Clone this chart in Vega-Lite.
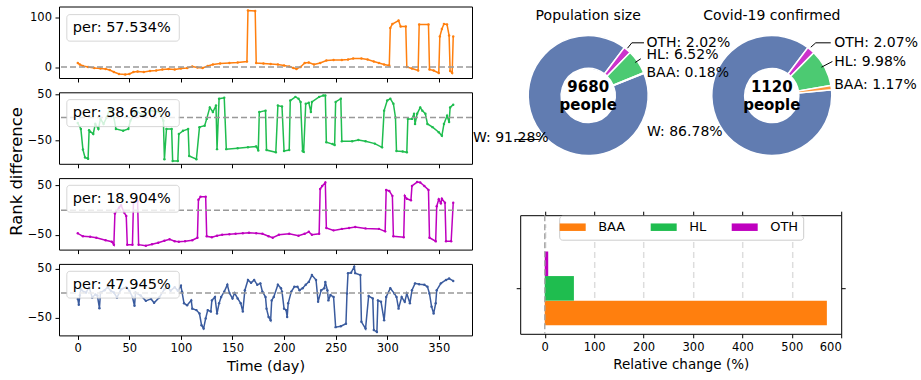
{
"$schema": "https://vega.github.io/schema/vega-lite/v6.json",
"padding": {"left": 7, "top": 5.5, "right": 0, "bottom": 0},
"autosize": {"type": "pad"},
"spacing": -1.8,
"resolve": {"scale": {"color": "independent"}},
"config": {
  "font": "DejaVu Sans",
  "view": {"stroke": "#000", "strokeWidth": 1},
  "axis": {"domain": false, "grid": false, "tickColor": "#000", "tickSize": 4, "tickWidth": 1, "labelFontSize": 11.5, "labelColor": "#000", "labelPadding": 3.5, "titleFontSize": 14.5, "titleFontWeight": "normal", "titleColor": "#000", "titlePadding": 5, "labelFont": "DejaVu Sans", "titleFont": "DejaVu Sans"},
  "text": {"font": "DejaVu Sans", "color": "#000"},
  "legend": {"labelFont": "DejaVu Sans"}
},
"datasets": {
"p1": [{"t":0,"v":8},{"t":2,"v":5},{"t":5,"v":2},{"t":10,"v":0},{"t":16,"v":-2},{"t":22,"v":-3},{"t":27,"v":-4},{"t":31,"v":-6},{"t":35,"v":-10},{"t":40,"v":-14},{"t":46,"v":-15},{"t":50,"v":-14},{"t":54,"v":-10},{"t":58,"v":-9},{"t":64,"v":-10},{"t":70,"v":-8},{"t":76,"v":-7},{"t":82,"v":-5},{"t":88,"v":-4},{"t":94,"v":-5},{"t":100,"v":-3},{"t":106,"v":-2},{"t":111,"v":1},{"t":116,"v":-1},{"t":121,"v":-2},{"t":126,"v":2},{"t":131,"v":5},{"t":138,"v":7},{"t":147,"v":8},{"t":155,"v":9},{"t":164,"v":11},{"t":165,"v":113},{"t":172,"v":112},{"t":173,"v":8},{"t":180,"v":7},{"t":187,"v":6},{"t":194,"v":5},{"t":200,"v":3},{"t":205,"v":1},{"t":209,"v":-2},{"t":212,"v":-4},{"t":216,"v":0},{"t":220,"v":8},{"t":224,"v":9},{"t":229,"v":5},{"t":235,"v":8},{"t":241,"v":13},{"t":248,"v":14},{"t":256,"v":14},{"t":262,"v":15},{"t":267,"v":17},{"t":275,"v":17},{"t":281,"v":15},{"t":287,"v":11},{"t":292,"v":8},{"t":297,"v":5},{"t":302,"v":3},{"t":303,"v":78},{"t":305,"v":86},{"t":311,"v":93},{"t":313,"v":81},{"t":318,"v":81},{"t":319,"v":0},{"t":324,"v":-3},{"t":330,"v":-7},{"t":331,"v":85},{"t":340,"v":85},{"t":341,"v":-5},{"t":345,"v":-7},{"t":350,"v":-12},{"t":351,"v":61},{"t":353,"v":76},{"t":355,"v":86},{"t":358,"v":85},{"t":360,"v":63},{"t":361,"v":-8},{"t":363,"v":-12},{"t":364,"v":61}],
"p2": [{"t":0,"v":-12},{"t":3,"v":-25},{"t":5,"v":-70},{"t":7,"v":-87},{"t":10,"v":-90},{"t":11,"v":-28},{"t":15,"v":-36},{"t":17,"v":-14},{"t":20,"v":-25},{"t":22,"v":-3},{"t":25,"v":-14},{"t":28,"v":0},{"t":31,"v":19},{"t":34,"v":12},{"t":37,"v":-25},{"t":44,"v":-29},{"t":49,"v":-25},{"t":51,"v":-7},{"t":57,"v":15},{"t":63,"v":4},{"t":70,"v":15},{"t":79,"v":12},{"t":83,"v":-7},{"t":84,"v":-91},{"t":86,"v":-25},{"t":91,"v":-25},{"t":92,"v":-95},{"t":97,"v":-95},{"t":98,"v":-36},{"t":102,"v":-29},{"t":107,"v":-25},{"t":108,"v":-84},{"t":115,"v":-91},{"t":118,"v":-21},{"t":123,"v":-18},{"t":125,"v":-3},{"t":128,"v":22},{"t":131,"v":12},{"t":134,"v":26},{"t":135,"v":-69},{"t":137,"v":41},{"t":142,"v":43},{"t":144,"v":-69},{"t":155,"v":-67},{"t":165,"v":-65},{"t":173,"v":-63},{"t":175,"v":-72},{"t":176,"v":12},{"t":182,"v":15},{"t":183,"v":-71},{"t":192,"v":-76},{"t":194,"v":26},{"t":198,"v":24},{"t":200,"v":-73},{"t":205,"v":-71},{"t":206,"v":37},{"t":211,"v":45},{"t":214,"v":41},{"t":216,"v":34},{"t":218,"v":-73},{"t":219,"v":-75},{"t":221,"v":30},{"t":224,"v":32},{"t":226,"v":12},{"t":227,"v":34},{"t":234,"v":45},{"t":238,"v":48},{"t":240,"v":48},{"t":241,"v":-54},{"t":247,"v":-58},{"t":249,"v":-60},{"t":250,"v":34},{"t":255,"v":41},{"t":256,"v":-52},{"t":266,"v":-52},{"t":272,"v":-49},{"t":279,"v":-52},{"t":288,"v":-57},{"t":295,"v":-65},{"t":297,"v":15},{"t":300,"v":37},{"t":303,"v":41},{"t":306,"v":30},{"t":308,"v":0},{"t":309,"v":-73},{"t":315,"v":-74},{"t":319,"v":-76},{"t":320,"v":-3},{"t":324,"v":-3},{"t":326,"v":8},{"t":327,"v":-14},{"t":329,"v":8},{"t":332,"v":22},{"t":334,"v":15},{"t":337,"v":8},{"t":339,"v":-14},{"t":344,"v":-21},{"t":350,"v":-32},{"t":353,"v":-40},{"t":355,"v":-14},{"t":358,"v":4},{"t":360,"v":-10},{"t":361,"v":22},{"t":364,"v":28}],
"p3": [{"t":0,"v":-47},{"t":5,"v":-53},{"t":12,"v":-54},{"t":18,"v":-56},{"t":27,"v":-61},{"t":33,"v":-64},{"t":35,"v":-70},{"t":36,"v":-7},{"t":40,"v":5},{"t":42,"v":10},{"t":45,"v":-5},{"t":47,"v":-12},{"t":48,"v":-70},{"t":53,"v":-70},{"t":54,"v":16},{"t":58,"v":18},{"t":59,"v":-70},{"t":66,"v":-72},{"t":72,"v":-69},{"t":78,"v":-66},{"t":84,"v":-62},{"t":89,"v":-59},{"t":94,"v":-63},{"t":98,"v":-64},{"t":104,"v":-63},{"t":111,"v":-61},{"t":116,"v":-56},{"t":117,"v":21},{"t":119,"v":27},{"t":124,"v":27},{"t":125,"v":-53},{"t":130,"v":-55},{"t":135,"v":-52},{"t":140,"v":-50},{"t":147,"v":-49},{"t":153,"v":-48},{"t":160,"v":-47},{"t":166,"v":-46},{"t":173,"v":-47},{"t":179,"v":-48},{"t":185,"v":-53},{"t":189,"v":-56},{"t":195,"v":-50},{"t":205,"v":-48},{"t":214,"v":-52},{"t":220,"v":-48},{"t":224,"v":-44},{"t":227,"v":-50},{"t":234,"v":-48},{"t":235,"v":43},{"t":237,"v":49},{"t":240,"v":56},{"t":241,"v":-36},{"t":248,"v":-41},{"t":256,"v":-38},{"t":263,"v":-36},{"t":269,"v":-34},{"t":279,"v":-37},{"t":292,"v":-38},{"t":298,"v":-43},{"t":299,"v":41},{"t":302,"v":39},{"t":305,"v":29},{"t":306,"v":-53},{"t":316,"v":-55},{"t":317,"v":29},{"t":319,"v":23},{"t":323,"v":20},{"t":324,"v":49},{"t":329,"v":57},{"t":332,"v":56},{"t":336,"v":49},{"t":340,"v":41},{"t":341,"v":-56},{"t":347,"v":-63},{"t":348,"v":8},{"t":350,"v":22},{"t":352,"v":14},{"t":353,"v":23},{"t":356,"v":15},{"t":357,"v":-63},{"t":362,"v":-63},{"t":364,"v":15}],
"p4": [{"t":0,"v":-12},{"t":1,"v":-24},{"t":2,"v":-5},{"t":3,"v":8},{"t":6,"v":2},{"t":8,"v":1},{"t":11,"v":12},{"t":14,"v":-9},{"t":17,"v":-3},{"t":19,"v":-5},{"t":21,"v":-31},{"t":22,"v":1},{"t":26,"v":6},{"t":29,"v":12},{"t":32,"v":5},{"t":35,"v":1},{"t":38,"v":-9},{"t":42,"v":8},{"t":47,"v":12},{"t":50,"v":5},{"t":53,"v":-8},{"t":55,"v":-26},{"t":56,"v":1},{"t":61,"v":-5},{"t":66,"v":-16},{"t":71,"v":-12},{"t":74,"v":-20},{"t":79,"v":-9},{"t":84,"v":8},{"t":87,"v":12},{"t":90,"v":5},{"t":94,"v":12},{"t":97,"v":5},{"t":100,"v":15},{"t":101,"v":3},{"t":103,"v":-21},{"t":106,"v":-25},{"t":110,"v":-15},{"t":111,"v":-32},{"t":115,"v":-35},{"t":118,"v":-42},{"t":120,"v":-66},{"t":122,"v":-73},{"t":124,"v":-52},{"t":126,"v":-35},{"t":129,"v":-38},{"t":130,"v":-15},{"t":133,"v":-8},{"t":135,"v":-42},{"t":137,"v":-21},{"t":139,"v":-8},{"t":142,"v":3},{"t":145,"v":17},{"t":147,"v":0},{"t":150,"v":-11},{"t":152,"v":0},{"t":155,"v":-11},{"t":158,"v":-21},{"t":160,"v":-38},{"t":162,"v":6},{"t":165,"v":27},{"t":168,"v":21},{"t":171,"v":27},{"t":174,"v":17},{"t":177,"v":20},{"t":179,"v":3},{"t":182,"v":-8},{"t":183,"v":-32},{"t":185,"v":-49},{"t":187,"v":-56},{"t":188,"v":-15},{"t":190,"v":-8},{"t":194,"v":17},{"t":197,"v":10},{"t":198,"v":3},{"t":200,"v":-32},{"t":202,"v":-35},{"t":203,"v":-49},{"t":204,"v":-21},{"t":207,"v":3},{"t":210,"v":13},{"t":213,"v":13},{"t":215,"v":6},{"t":218,"v":10},{"t":221,"v":17},{"t":224,"v":23},{"t":227,"v":37},{"t":231,"v":27},{"t":233,"v":-18},{"t":236,"v":6},{"t":239,"v":10},{"t":240,"v":23},{"t":242,"v":6},{"t":243,"v":-15},{"t":245,"v":-4},{"t":248,"v":-8},{"t":250,"v":-70},{"t":255,"v":-68},{"t":260,"v":-63},{"t":261,"v":-1},{"t":262,"v":41},{"t":265,"v":42},{"t":268,"v":54},{"t":269,"v":41},{"t":274,"v":37},{"t":275,"v":-59},{"t":279,"v":-73},{"t":282,"v":-6},{"t":286,"v":-11},{"t":287,"v":-76},{"t":290,"v":-80},{"t":291,"v":-15},{"t":294,"v":-18},{"t":297,"v":-56},{"t":299,"v":-8},{"t":303,"v":10},{"t":307,"v":-1},{"t":309,"v":-8},{"t":311,"v":-32},{"t":314,"v":-8},{"t":317,"v":-18},{"t":319,"v":-1},{"t":322,"v":-21},{"t":324,"v":6},{"t":327,"v":20},{"t":331,"v":18},{"t":336,"v":17},{"t":339,"v":13},{"t":341,"v":-1},{"t":343,"v":-28},{"t":345,"v":-42},{"t":347,"v":-21},{"t":348,"v":6},{"t":352,"v":20},{"t":357,"v":27},{"t":360,"v":30},{"t":364,"v":25}]
},
"hconcat": [
 {"vconcat": [
  {"width": 413, "height": 71.5, "data": {"name": "p1"},
   "layer": [
    {"mark": {"type": "line", "color": "#ff7f0e", "strokeWidth": 1.5, "point": {"filled": true, "size": 6, "color": "#ff7f0e"}},
     "encoding": {"x": {"field": "t", "type": "quantitative", "scale": {"domain": [-18.2, 382.2], "nice": false, "zero": false}, "axis": {"values": [0,50,100,150,200,250,300,350], "labels": false, "title": null}},
                  "y": {"field": "v", "type": "quantitative", "scale": {"domain": [-22, 121], "nice": false, "zero": false}, "axis": {"values": [0,100], "title": null}}}},
    {"data": {"values": [{}]}, "mark": {"type": "rule", "color": "#999999", "strokeDash": [6,3], "strokeWidth": 1.5}, "encoding": {"y": {"datum": 0, "type": "quantitative"}}},
    {"data": {"values": [{}]}, "mark": {"type": "rect", "fill": "#ffffff", "fillOpacity": 0.8, "stroke": "#cccccc", "strokeOpacity": 0.8, "cornerRadius": 3},
     "encoding": {"x": {"datum": -10.6, "type": "quantitative"}, "x2": {"datum": 98.4}, "y": {"datum": 104.8, "type": "quantitative"}, "y2": {"datum": 51.7}}},
    {"data": {"values": [{}]}, "mark": {"type": "text", "text": "per: 57.534%", "align": "left", "baseline": "middle", "fontSize": 14.5},
     "encoding": {"x": {"datum": -4.8, "type": "quantitative"}, "y": {"datum": 77.5, "type": "quantitative"}}}
   ]},
  {"width": 413, "height": 71.5, "data": {"name": "p2"},
   "layer": [
    {"mark": {"type": "line", "color": "#1fbd4f", "strokeWidth": 1.5, "point": {"filled": true, "size": 6, "color": "#1fbd4f"}},
     "encoding": {"x": {"field": "t", "type": "quantitative", "scale": {"domain": [-18.2, 382.2], "nice": false, "zero": false}, "axis": {"values": [0,50,100,150,200,250,300,350], "labels": false, "title": null}},
                  "y": {"field": "v", "type": "quantitative", "scale": {"domain": [-101, 55], "nice": false, "zero": false}, "axis": {"values": [-50,0,50], "title": "Rank difference", "titleFontSize": 16.4, "titleX": -43, "titleY": 78.7, "titleBaseline": "middle"}}}},
    {"data": {"values": [{}]}, "mark": {"type": "rule", "color": "#999999", "strokeDash": [6,3], "strokeWidth": 1.5}, "encoding": {"y": {"datum": 0, "type": "quantitative"}}},
    {"data": {"values": [{}]}, "mark": {"type": "rect", "fill": "#ffffff", "fillOpacity": 0.8, "stroke": "#cccccc", "strokeOpacity": 0.8, "cornerRadius": 3},
     "encoding": {"x": {"datum": -10.6, "type": "quantitative"}, "x2": {"datum": 98.4}, "y": {"datum": 39.0, "type": "quantitative"}, "y2": {"datum": -19.9}}},
    {"data": {"values": [{}]}, "mark": {"type": "text", "text": "per: 38.630%", "align": "left", "baseline": "middle", "fontSize": 14.5},
     "encoding": {"x": {"datum": -4.8, "type": "quantitative"}, "y": {"datum": 8.8, "type": "quantitative"}}}
   ]},
  {"width": 413, "height": 71.5, "data": {"name": "p3"},
   "layer": [
    {"mark": {"type": "line", "color": "#bf00bf", "strokeWidth": 1.5, "point": {"filled": true, "size": 6, "color": "#bf00bf"}},
     "encoding": {"x": {"field": "t", "type": "quantitative", "scale": {"domain": [-18.2, 382.2], "nice": false, "zero": false}, "axis": {"values": [0,50,100,150,200,250,300,350], "labels": false, "title": null}},
                  "y": {"field": "v", "type": "quantitative", "scale": {"domain": [-80, 65], "nice": false, "zero": false}, "axis": {"values": [-50,0,50], "title": null}}}},
    {"data": {"values": [{}]}, "mark": {"type": "rule", "color": "#999999", "strokeDash": [6,3], "strokeWidth": 1.5}, "encoding": {"y": {"datum": 0, "type": "quantitative"}}},
    {"data": {"values": [{}]}, "mark": {"type": "rect", "fill": "#ffffff", "fillOpacity": 0.8, "stroke": "#cccccc", "strokeOpacity": 0.8, "cornerRadius": 3},
     "encoding": {"x": {"datum": -10.6, "type": "quantitative"}, "x2": {"datum": 98.4}, "y": {"datum": 50.4, "type": "quantitative"}, "y2": {"datum": -4.1}}},
    {"data": {"values": [{}]}, "mark": {"type": "text", "text": "per: 18.904%", "align": "left", "baseline": "middle", "fontSize": 14.5},
     "encoding": {"x": {"datum": -4.8, "type": "quantitative"}, "y": {"datum": 22.4, "type": "quantitative"}}}
   ]},
  {"width": 413, "height": 71.5, "data": {"name": "p4"},
   "layer": [
    {"mark": {"type": "line", "color": "#3a5b9e", "strokeWidth": 1.5, "point": {"filled": true, "size": 6, "color": "#3a5b9e"}},
     "encoding": {"x": {"field": "t", "type": "quantitative", "scale": {"domain": [-18.2, 382.2], "nice": false, "zero": false}, "axis": {"values": [0,50,100,150,200,250,300,350], "title": "Time (day)"}},
                  "y": {"field": "v", "type": "quantitative", "scale": {"domain": [-87, 60], "nice": false, "zero": false}, "axis": {"values": [-50,0,50], "title": null}}}},
    {"data": {"values": [{}]}, "mark": {"type": "rule", "color": "#999999", "strokeDash": [6,3], "strokeWidth": 1.5}, "encoding": {"y": {"datum": 0, "type": "quantitative"}}},
    {"data": {"values": [{}]}, "mark": {"type": "rect", "fill": "#ffffff", "fillOpacity": 0.8, "stroke": "#cccccc", "strokeOpacity": 0.8, "cornerRadius": 3},
     "encoding": {"x": {"datum": -10.6, "type": "quantitative"}, "x2": {"datum": 98.4}, "y": {"datum": 44.8, "type": "quantitative"}, "y2": {"datum": -10.3}}},
    {"data": {"values": [{}]}, "mark": {"type": "text", "text": "per: 47.945%", "align": "left", "baseline": "middle", "fontSize": 14.5},
     "encoding": {"x": {"datum": -4.8, "type": "quantitative"}, "y": {"datum": 15.9, "type": "quantitative"}}}
   ]}
 ], "spacing": 13.8, "bounds": "flush"},
 {"vconcat": [
  {"width": 321, "height": 178, "view": {"stroke": null},
   "layer": [
    {"data": {"values": [{"g":"W","pct":91.28,"k":1},{"g":"OTH","pct":2.02,"k":2},{"g":"HL","pct":6.52,"k":3},{"g":"BAA","pct":0.18,"k":4}]},
     "mark": {"type": "arc", "radius": 60, "radius2": 27, "stroke": "#ffffff", "strokeWidth": 1.5},
     "encoding": {"x": {"datum": 0, "type": "quantitative", "scale": {"domain": [-1.1333, 4.2167], "nice": false, "zero": false}, "axis": null},
                  "y": {"datum": 0, "type": "quantitative", "scale": {"domain": [-1.4833, 1.4833], "nice": false, "zero": false}, "axis": null},
                  "theta": {"field": "pct", "type": "quantitative", "stack": true, "scale": {"range": [1.1938, 7.4770]}},
                  "color": {"field": "g", "type": "nominal", "scale": {"domain": ["W","BAA","HL","OTH"], "range": ["#617cb1","#ff993e","#4cca72","#cc33cc"]}, "legend": null},
                  "order": {"field": "k", "type": "quantitative"}}},
    {"data": {"values": [{"g":"W","pct":86.78,"k":1},{"g":"OTH","pct":2.07,"k":2},{"g":"HL","pct":9.98,"k":3},{"g":"BAA","pct":1.17,"k":4}]},
     "mark": {"type": "arc", "radius": 60, "radius2": 27, "stroke": "#ffffff", "strokeWidth": 1.5},
     "encoding": {"x": {"datum": 3.06, "type": "quantitative", "scale": {"domain": [-1.1333, 4.2167], "nice": false, "zero": false}, "axis": null},
                  "y": {"datum": 0, "type": "quantitative", "scale": {"domain": [-1.4833, 1.4833], "nice": false, "zero": false}, "axis": null},
                  "theta": {"field": "pct", "type": "quantitative", "stack": true, "scale": {"range": [1.4765, 7.7597]}},
                  "color": {"field": "g", "type": "nominal", "scale": {"domain": ["W","BAA","HL","OTH"], "range": ["#617cb1","#ff993e","#4cca72","#cc33cc"]}, "legend": null},
                  "order": {"field": "k", "type": "quantitative"}}},
    {"data": {"values": [{}]}, "mark": {"type": "text", "text": "Population size", "align": "center", "baseline": "middle", "fontSize": 14},
     "encoding": {"x": {"datum": 0, "type": "quantitative", "scale": {"domain": [-1.1333, 4.2167], "nice": false, "zero": false}, "axis": null}, "y": {"datum": 1.317, "type": "quantitative", "scale": {"domain": [-1.4833, 1.4833], "nice": false, "zero": false}, "axis": null}}},
    {"data": {"values": [{}]}, "mark": {"type": "text", "text": "Covid-19 confirmed", "align": "center", "baseline": "middle", "fontSize": 14},
     "encoding": {"x": {"datum": 3.06, "type": "quantitative", "scale": {"domain": [-1.1333, 4.2167], "nice": false, "zero": false}, "axis": null}, "y": {"datum": 1.317, "type": "quantitative", "scale": {"domain": [-1.4833, 1.4833], "nice": false, "zero": false}, "axis": null}}},
    {"data": {"values": [{}]}, "mark": {"type": "text", "text": "9680", "align": "center", "baseline": "middle", "fontSize": 15, "fontWeight": "bold"},
     "encoding": {"x": {"datum": 0, "type": "quantitative", "scale": {"domain": [-1.1333, 4.2167], "nice": false, "zero": false}, "axis": null}, "y": {"datum": 0.138, "type": "quantitative", "scale": {"domain": [-1.4833, 1.4833], "nice": false, "zero": false}, "axis": null}}},
    {"data": {"values": [{}]}, "mark": {"type": "text", "text": "people", "align": "center", "baseline": "middle", "fontSize": 15, "fontWeight": "bold"},
     "encoding": {"x": {"datum": 0, "type": "quantitative", "scale": {"domain": [-1.1333, 4.2167], "nice": false, "zero": false}, "axis": null}, "y": {"datum": -0.15, "type": "quantitative", "scale": {"domain": [-1.4833, 1.4833], "nice": false, "zero": false}, "axis": null}}},
    {"data": {"values": [{}]}, "mark": {"type": "text", "text": "1120", "align": "center", "baseline": "middle", "fontSize": 15, "fontWeight": "bold"},
     "encoding": {"x": {"datum": 3.06, "type": "quantitative", "scale": {"domain": [-1.1333, 4.2167], "nice": false, "zero": false}, "axis": null}, "y": {"datum": 0.138, "type": "quantitative", "scale": {"domain": [-1.4833, 1.4833], "nice": false, "zero": false}, "axis": null}}},
    {"data": {"values": [{}]}, "mark": {"type": "text", "text": "people", "align": "center", "baseline": "middle", "fontSize": 15, "fontWeight": "bold"},
     "encoding": {"x": {"datum": 3.06, "type": "quantitative", "scale": {"domain": [-1.1333, 4.2167], "nice": false, "zero": false}, "axis": null}, "y": {"datum": -0.15, "type": "quantitative", "scale": {"domain": [-1.4833, 1.4833], "nice": false, "zero": false}, "axis": null}}},
    {"data": {"values": [{}]}, "mark": {"type": "text", "text": "OTH: 2.02%", "align": "left", "baseline": "middle", "fontSize": 14},
     "encoding": {"x": {"datum": 0.972, "type": "quantitative", "scale": {"domain": [-1.1333, 4.2167], "nice": false, "zero": false}, "axis": null}, "y": {"datum": 0.878, "type": "quantitative", "scale": {"domain": [-1.4833, 1.4833], "nice": false, "zero": false}, "axis": null}}},
    {"data": {"values": [{}]}, "mark": {"type": "text", "text": "HL: 6.52%", "align": "left", "baseline": "middle", "fontSize": 14},
     "encoding": {"x": {"datum": 0.972, "type": "quantitative", "scale": {"domain": [-1.1333, 4.2167], "nice": false, "zero": false}, "axis": null}, "y": {"datum": 0.667, "type": "quantitative", "scale": {"domain": [-1.4833, 1.4833], "nice": false, "zero": false}, "axis": null}}},
    {"data": {"values": [{}]}, "mark": {"type": "text", "text": "BAA: 0.18%", "align": "left", "baseline": "middle", "fontSize": 14},
     "encoding": {"x": {"datum": 0.972, "type": "quantitative", "scale": {"domain": [-1.1333, 4.2167], "nice": false, "zero": false}, "axis": null}, "y": {"datum": 0.372, "type": "quantitative", "scale": {"domain": [-1.4833, 1.4833], "nice": false, "zero": false}, "axis": null}}},
    {"data": {"values": [{}]}, "mark": {"type": "text", "text": "W: 91.28%", "align": "right", "baseline": "middle", "fontSize": 14},
     "encoding": {"x": {"datum": -0.66, "type": "quantitative", "scale": {"domain": [-1.1333, 4.2167], "nice": false, "zero": false}, "axis": null}, "y": {"datum": -0.70, "type": "quantitative", "scale": {"domain": [-1.4833, 1.4833], "nice": false, "zero": false}, "axis": null}}},
    {"data": {"values": [{}]}, "mark": {"type": "text", "text": "OTH: 2.07%", "align": "left", "baseline": "middle", "fontSize": 14},
     "encoding": {"x": {"datum": 4.1, "type": "quantitative", "scale": {"domain": [-1.1333, 4.2167], "nice": false, "zero": false}, "axis": null}, "y": {"datum": 0.878, "type": "quantitative", "scale": {"domain": [-1.4833, 1.4833], "nice": false, "zero": false}, "axis": null}}},
    {"data": {"values": [{}]}, "mark": {"type": "text", "text": "HL: 9.98%", "align": "left", "baseline": "middle", "fontSize": 14},
     "encoding": {"x": {"datum": 4.1, "type": "quantitative", "scale": {"domain": [-1.1333, 4.2167], "nice": false, "zero": false}, "axis": null}, "y": {"datum": 0.555, "type": "quantitative", "scale": {"domain": [-1.4833, 1.4833], "nice": false, "zero": false}, "axis": null}}},
    {"data": {"values": [{}]}, "mark": {"type": "text", "text": "BAA: 1.17%", "align": "left", "baseline": "middle", "fontSize": 14},
     "encoding": {"x": {"datum": 4.1, "type": "quantitative", "scale": {"domain": [-1.1333, 4.2167], "nice": false, "zero": false}, "axis": null}, "y": {"datum": 0.167, "type": "quantitative", "scale": {"domain": [-1.4833, 1.4833], "nice": false, "zero": false}, "axis": null}}},
    {"data": {"values": [{}]}, "mark": {"type": "text", "text": "W: 86.78%", "align": "right", "baseline": "middle", "fontSize": 14},
     "encoding": {"x": {"datum": 2.24, "type": "quantitative", "scale": {"domain": [-1.1333, 4.2167], "nice": false, "zero": false}, "axis": null}, "y": {"datum": -0.6, "type": "quantitative", "scale": {"domain": [-1.4833, 1.4833], "nice": false, "zero": false}, "axis": null}}},
    {"data": {"values": [{}]}, "mark": {"type": "rule", "color": "#000", "strokeWidth": 1},
     "encoding": {"x": {"datum": 0.727, "type": "quantitative", "scale": {"domain": [-1.1333, 4.2167], "nice": false, "zero": false}, "axis": null}, "x2": {"datum": 0.93}, "y": {"datum": 0.878, "type": "quantitative", "scale": {"domain": [-1.4833, 1.4833], "nice": false, "zero": false}, "axis": null}, "y2": {"datum": 0.878}}},
    {"data": {"values": [{}]}, "mark": {"type": "rule", "color": "#000", "strokeWidth": 1},
     "encoding": {"x": {"datum": 0.655, "type": "quantitative", "scale": {"domain": [-1.1333, 4.2167], "nice": false, "zero": false}, "axis": null}, "x2": {"datum": 0.727}, "y": {"datum": 0.788, "type": "quantitative", "scale": {"domain": [-1.4833, 1.4833], "nice": false, "zero": false}, "axis": null}, "y2": {"datum": 0.878}}},
    {"data": {"values": [{}]}, "mark": {"type": "rule", "color": "#000", "strokeWidth": 1},
     "encoding": {"x": {"datum": 0.783, "type": "quantitative", "scale": {"domain": [-1.1333, 4.2167], "nice": false, "zero": false}, "axis": null}, "x2": {"datum": 0.877}, "y": {"datum": 0.55, "type": "quantitative", "scale": {"domain": [-1.4833, 1.4833], "nice": false, "zero": false}, "axis": null}, "y2": {"datum": 0.612}}},
    {"data": {"values": [{}]}, "mark": {"type": "rule", "color": "#000", "strokeWidth": 1},
     "encoding": {"x": {"datum": -1.23, "type": "quantitative", "scale": {"domain": [-1.1333, 4.2167], "nice": false, "zero": false}, "axis": null}, "x2": {"datum": -0.81}, "y": {"datum": -0.733, "type": "quantitative", "scale": {"domain": [-1.4833, 1.4833], "nice": false, "zero": false}, "axis": null}, "y2": {"datum": -0.733}}},
    {"data": {"values": [{}]}, "mark": {"type": "rule", "color": "#000", "strokeWidth": 1},
     "encoding": {"x": {"datum": -0.81, "type": "quantitative", "scale": {"domain": [-1.1333, 4.2167], "nice": false, "zero": false}, "axis": null}, "x2": {"datum": -0.73}, "y": {"datum": -0.733, "type": "quantitative", "scale": {"domain": [-1.4833, 1.4833], "nice": false, "zero": false}, "axis": null}, "y2": {"datum": -0.617}}},
    {"data": {"values": [{}]}, "mark": {"type": "rule", "color": "#000", "strokeWidth": 1},
     "encoding": {"x": {"datum": 3.793, "type": "quantitative", "scale": {"domain": [-1.1333, 4.2167], "nice": false, "zero": false}, "axis": null}, "x2": {"datum": 4.043}, "y": {"datum": 0.878, "type": "quantitative", "scale": {"domain": [-1.4833, 1.4833], "nice": false, "zero": false}, "axis": null}, "y2": {"datum": 0.878}}},
    {"data": {"values": [{}]}, "mark": {"type": "rule", "color": "#000", "strokeWidth": 1},
     "encoding": {"x": {"datum": 3.71, "type": "quantitative", "scale": {"domain": [-1.1333, 4.2167], "nice": false, "zero": false}, "axis": null}, "x2": {"datum": 3.793}, "y": {"datum": 0.805, "type": "quantitative", "scale": {"domain": [-1.4833, 1.4833], "nice": false, "zero": false}, "axis": null}, "y2": {"datum": 0.878}}},
    {"data": {"values": [{}]}, "mark": {"type": "rule", "color": "#000", "strokeWidth": 1},
     "encoding": {"x": {"datum": 3.888, "type": "quantitative", "scale": {"domain": [-1.1333, 4.2167], "nice": false, "zero": false}, "axis": null}, "x2": {"datum": 4.07}, "y": {"datum": 0.472, "type": "quantitative", "scale": {"domain": [-1.4833, 1.4833], "nice": false, "zero": false}, "axis": null}, "y2": {"datum": 0.567}}}
   ],
   "resolve": {"scale": {"theta": "independent"}}},
  {"width": 321, "height": 118.6,
   "data": {"values": [{"s":"a","g":"BAA","v":571},{"s":"a","g":"HL","v":59},{"s":"a","g":"OTH","v":7}]},
   "layer": [
    {"mark": {"type": "bar"},
     "encoding": {
       "x": {"field": "v", "type": "quantitative", "scale": {"domain": [-49.7, 600], "nice": false, "zero": false}, "axis": {"values": [0,100,200,300,400,500,600], "grid": true, "gridDash": [6,4], "gridColor": {"condition": {"test": "datum.value >= 600", "value": "transparent"}, "value": "#dddddd"}, "gridWidth": 1.5, "title": "Relative change (%)", "titleFontSize": 13.5}},
       "y": {"field": "s", "type": "nominal", "scale": {"range": [36.3, 110], "paddingInner": 0, "paddingOuter": 0}, "axis": {"labels": false, "title": null}},
       "yOffset": {"field": "g", "type": "nominal", "sort": ["OTH","HL","BAA"], "scale": {"paddingInner": 0, "paddingOuter": 0}},
       "color": {"field": "g", "type": "nominal", "scale": {"domain": ["BAA","HL","OTH"], "range": ["#ff7f0e","#1fbd4f","#bf00bf"]},
                 "legend": {"orient": "none", "legendX": 39, "legendY": 0.5, "direction": "horizontal", "title": null, "gridAlign": "none", "symbolType": "M-2,-0.577H2V0.577H-2Z", "symbolSize": 169, "symbolStrokeWidth": 0, "symbolOffset": 2, "labelOffset": 19, "columnPadding": 24, "labelFontSize": 13, "labelColor": "#000", "padding": 5, "fillColor": "#ffffff", "strokeColor": "#cccccc", "cornerRadius": 3, "symbolOpacity": 1}}
     }},
    {"data": {"values": [{}]}, "mark": {"type": "rule", "color": "#aaaaaa", "strokeDash": [6,3], "strokeWidth": 1.5},
     "encoding": {"x": {"datum": 0, "type": "quantitative", "scale": {"domain": [-49.7, 600], "nice": false, "zero": false}, "axis": {"orient": "top", "labels": false, "title": null, "values": [0,100,200,300,400,500,600], "grid": false}}}},
    {"mark": {"type": "text", "text": ""},
     "encoding": {"y": {"field": "s", "type": "nominal", "scale": {"range": [36.3, 110], "paddingInner": 0, "paddingOuter": 0}, "axis": {"orient": "right", "labels": false, "title": null}}}}
   ],
   "resolve": {"axis": {"x": "independent", "y": "independent"}}}
 ], "spacing": 30.7, "bounds": "flush", "resolve": {"scale": {"color": "independent"}}}
]
}
